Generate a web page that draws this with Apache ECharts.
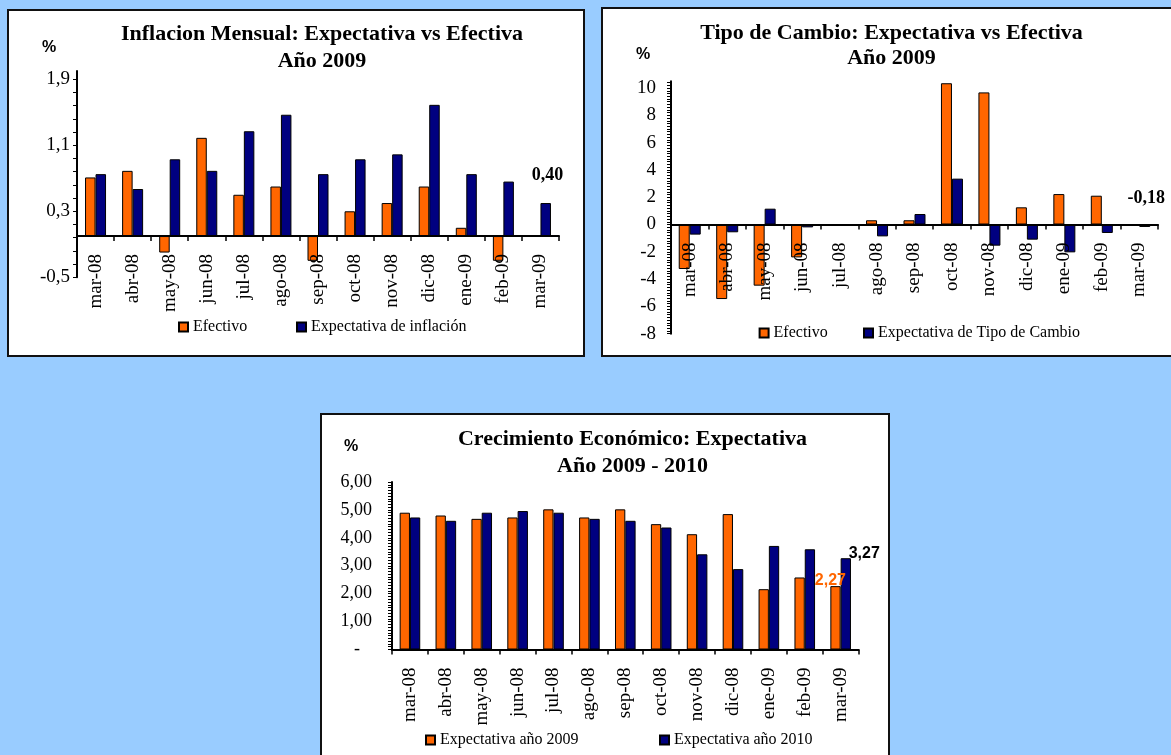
<!DOCTYPE html>
<html>
<head>
<meta charset="utf-8">
<script src="https://cdn.jsdelivr.net/npm/echarts@6/dist/echarts.min.js"></script>
<style>
  html, body { margin: 0; padding: 0; width: 1171px; height: 755px; overflow: hidden; background: #99ccff; }
  .box { position: absolute; box-sizing: border-box; border: 2px solid #111; background: #fff; }
</style>
</head>
<body>
<div id="c1" class="box" style="left:7px;top:9px;width:578px;height:348px"></div>
<div id="c2" class="box" style="left:601px;top:7px;width:580px;height:350px"></div>
<div id="c3" class="box" style="left:320px;top:413px;width:570px;height:360px"></div>
<script>
// meses (eje x comun)
const months = ['mar-08', 'abr-08', 'may-08', 'jun-08', 'jul-08', 'ago-08', 'sep-08',
  'oct-08', 'nov-08', 'dic-08', 'ene-09', 'feb-09', 'mar-09'];

// Inflacion mensual
const inflEfectivo = [0.71, 0.79, -0.20, 1.19, 0.50, 0.60, -0.30, 0.30, 0.40, 0.60, 0.10, -0.30, null];
const inflExpectativa = [0.75, 0.57, 0.93, 0.79, 1.27, 1.47, 0.75, 0.93, 0.99, 1.59, 0.75, 0.66, 0.40];
const inflTicks = [-0.5, 0.3, 1.1, 1.9];

// Tipo de cambio
const tcEfectivo = [-3.26, -5.46, -4.48, -2.41, -0.08, 0.31, 0.31, 10.35, 9.68, 1.26, 2.23, 2.11, null];
const tcExpectativa = [-0.74, -0.57, 1.16, -0.21, -0.10, -0.87, 0.77, 3.36, -1.55, -1.11, -2.04, -0.62, -0.18];
const tcTicks = [-8, -6, -4, -2, 0, 2, 4, 6, 8, 10];

// Crecimiento economico
const pib2009 = [4.90, 4.80, 4.68, 4.73, 5.02, 4.73, 5.02, 4.49, 4.13, 4.85, 2.16, 2.58, 2.27];
const pib2010 = [4.73, 4.61, 4.90, 4.96, 4.90, 4.68, 4.61, 4.37, 3.41, 2.88, 3.71, 3.59, 3.27];
const pibTicks = [0, 1, 2, 3, 4, 5, 6];

const ORANGE = '#ff6600';
const NAVY = '#000080';
const serif = '"Liberation Serif", "Times New Roman", serif';
const sans = '"Liberation Sans", Arial, sans-serif';

// marcas pequeñas del eje y
function smallTicks(min, max, step) {
  const out = [];
  for (let v = min; v <= max + 1e-9; v += step) out.push(+v.toFixed(4));
  return out;
}

function comma(v, d) {
  return v.toFixed(d).replace('.', ',');
}

function textEl(x, y, text, font, fill) {
  return { type: 'text', x: x, y: y, silent: true,
    style: { text: text, font: font, fill: fill || '#000', align: 'center', verticalAlign: 'middle' } };
}

function buildOption(c) {
  const g = c.grid;
  // las etiquetas del eje x van pegadas a la linea del cero
  const zeroH = g[3] * c.max / (c.max - c.min);
  return {
    animation: false,
    graphic: [
      textEl(c.titleX, c.titleY[0], c.title[0], 'bold 22px ' + serif),
      textEl(c.titleX, c.titleY[1], c.title[1], 'bold 22px ' + serif),
      textEl(c.pct[0], c.pct[1], '%', 'bold 16px ' + sans)
    ],
    legend: c.names.map((n, i) => ({
      data: [n],
      left: c.legend[i],
      top: c.legendTop,
      padding: 0,
      icon: 'rect',
      itemWidth: 9,
      itemHeight: 9,
      selectedMode: false,
      textStyle: { fontFamily: serif, fontSize: 16, color: '#000' }
    })),
    grid: [
      { left: g[0], top: g[1], width: g[2], height: g[3], outerBoundsMode: 'none' },
      { left: g[0], top: g[1], width: g[2], height: zeroH, outerBoundsMode: 'none' }
    ],
    xAxis: [
      {
        type: 'category',
        data: months,
        z: 5,
        axisLine: { lineStyle: { color: '#000', width: 2 } },
        axisTick: { show: true, interval: 0, length: 5, lineStyle: { color: '#000', width: 1.5 } },
        axisLabel: { show: false },
        splitLine: { show: false }
      },
      {
        type: 'category',
        gridIndex: 1,
        data: months,
        z: 6,
        axisLine: { show: false },
        axisTick: { show: false },
        axisLabel: { interval: 0, rotate: 90, margin: 18, fontFamily: serif, fontSize: 19, color: '#000' },
        splitLine: { show: false }
      }
    ],
    yAxis: [
      {
        type: 'value',
        min: c.min,
        max: c.max,
        axisLine: { show: true, lineStyle: { color: '#000', width: 2 } },
        axisTick: { show: true, length: 4, customValues: c.small, lineStyle: { color: '#000', width: 1 } },
        axisLabel: {
          customValues: c.ticks,
          margin: c.labelMargin,
          fontFamily: serif,
          fontSize: c.yFont,
          color: '#000',
          formatter: c.yFormat,
          rich: { z: { fontFamily: serif, fontSize: c.yFont, color: '#000', padding: [0, 12, 0, 0] } }
        },
        splitLine: { show: false }
      },
      { type: 'value', gridIndex: 1, show: false, min: 0, max: 1 }
    ],
    series: [
      { name: c.names[0], type: 'bar', data: c.a, barWidth: c.barW, barGap: '0%',
        itemStyle: { color: ORANGE, borderColor: '#000', borderWidth: 1 } },
      { name: c.names[1], type: 'bar', data: c.b, barWidth: c.barW, barGap: '0%',
        itemStyle: { color: NAVY, borderColor: '#000', borderWidth: 1 } }
    ]
  };
}

// dato con etiqueta de valor (ultimo mes)
function withLabel(arr, idx, pos, align, family, size, color, dec) {
  return arr.map((v, i) => {
    if (i !== idx) return v;
    return { value: v, label: { show: true, position: pos, align: align, verticalAlign: 'middle',
      fontFamily: family, fontSize: size, fontWeight: 'bold', color: color,
      formatter: p => comma(p.value, dec) } };
  });
}

const last = months.length - 1;

// grafico 1
echarts.init(document.getElementById('c1')).setOption(buildOption({
  title: ['Inflacion Mensual: Expectativa vs Efectiva', 'Año 2009'],
  titleX: 313, titleY: [23, 50], pct: [40, 37],
  names: ['Efectivo', 'Expectativa de inflación'],
  legend: [169, 287], legendTop: 308,
  grid: [68, 60, 482, 206.3],
  min: -0.5, max: 2.0, ticks: inflTicks, small: smallTicks(-0.5, 2.0, 0.16),
  labelMargin: 7, yFont: 19,
  yFormat: v => comma(v, 1),
  barW: 10.5,
  a: inflEfectivo,
  b: withLabel(inflExpectativa, last, [7, -28], 'center', serif, 18, '#000', 2)
}));

// grafico 2
echarts.init(document.getElementById('c2')).setOption(buildOption({
  title: ['Tipo de Cambio: Expectativa vs Efectiva', 'Año 2009'],
  titleX: 288.5, titleY: [24, 49], pct: [40, 46],
  names: ['Efectivo', 'Expectativa de Tipo de Cambio'],
  legend: [155.6, 260], legendTop: 316,
  grid: [68, 72.2, 487, 252.5],
  min: -8, max: 10.5, ticks: tcTicks, small: smallTicks(-8, 10.4, 0.2),
  labelMargin: 15, yFont: 19,
  yFormat: v => String(v),
  barW: 11,
  a: tcEfectivo,
  b: withLabel(tcExpectativa, last, [7, -26], 'center', serif, 18, '#000', 2)
}));

// grafico 3
echarts.init(document.getElementById('c3')).setOption(buildOption({
  title: ['Crecimiento Económico: Expectativa', 'Año 2009 - 2010'],
  titleX: 310.5, titleY: [24.3, 51], pct: [29, 32],
  names: ['Expectativa año 2009', 'Expectativa año 2010'],
  legend: [103, 337], legendTop: 317,
  grid: [70, 67, 466.6, 167.5],
  min: 0, max: 6, ticks: pibTicks, small: smallTicks(0, 6, 0.1),
  labelMargin: 20, yFont: 18,
  yFormat: v => (v === 0 ? '{z|-}' : comma(v, 2)),
  barW: 10.3,
  a: withLabel(pib2009, last, [0, -6], 'center', sans, 16, ORANGE, 2),
  b: withLabel(pib2010, last, [8, -5], 'left', sans, 16, '#000', 2)
}));
</script>
</body>
</html>
